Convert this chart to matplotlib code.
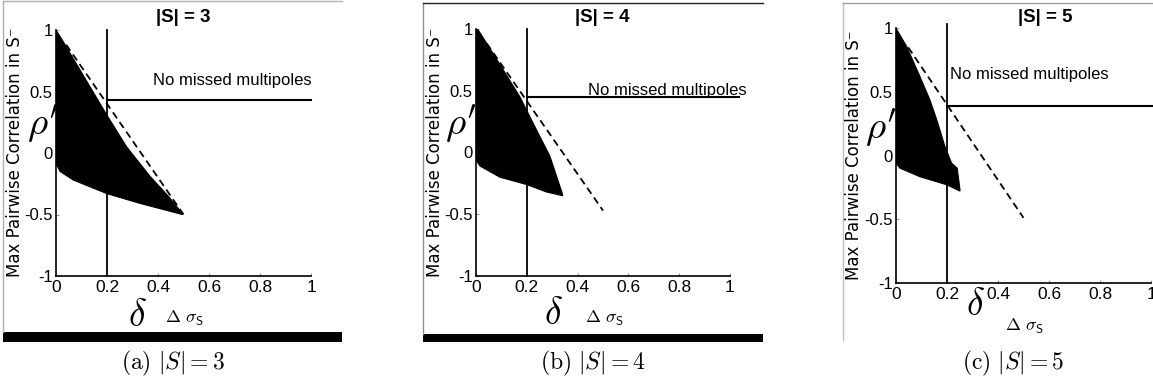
#!/usr/bin/env python3
"""Three-panel scatter-region plot: max pairwise correlation vs delta for |S| = 3, 4, 5."""

import matplotlib

matplotlib.use("Agg")
import matplotlib.pyplot as plt
import numpy as np
from matplotlib.lines import Line2D
from matplotlib.patches import Rectangle

W, H = 1153, 388

# ---- data ----
set_sizes = [3, 4, 5]
panel_letters = ["a", "b", "c"]

# upper / lower boundary of the dense point cloud, per panel
upper_x_3 = [0.0, 0.03, 0.07, 0.133, 0.199, 0.277, 0.369, 0.44, 0.495]
upper_y_3 = [1.0, 0.90, 0.76, 0.54, 0.31, 0.05, -0.19, -0.35, -0.49]
lower_x_3 = [0.0, 0.016, 0.068, 0.199, 0.33, 0.495]
lower_y_3 = [-0.085, -0.15, -0.22, -0.33, -0.41, -0.50]

upper_x_4 = [0.0, 0.068, 0.173, 0.239, 0.291, 0.341]
upper_y_4 = [1.02, 0.80, 0.45, 0.18, -0.03, -0.34]
lower_x_4 = [0.0, 0.016, 0.094, 0.2, 0.278, 0.341]
lower_y_4 = [-0.06, -0.11, -0.20, -0.26, -0.32, -0.35]

upper_x_5 = [0.0, 0.042, 0.094, 0.133, 0.16, 0.192, 0.218, 0.24, 0.251]
upper_y_5 = [1.0, 0.857, 0.62, 0.437, 0.28, 0.07, -0.06, -0.10, -0.27]
lower_x_5 = [0.0, 0.016, 0.094, 0.199, 0.251]
lower_y_5 = [-0.06, -0.10, -0.167, -0.23, -0.28]

# dashed bound line endpoints
dash_x = [[0.04, 0.5], [0.042, 0.5], [0.048, 0.5]]
dash_y = [[0.88, -0.5], [0.884, -0.47], [0.85, -0.49]]

# threshold lines
delta_thr = [0.2, 0.2, 0.2]
rho_thr = [0.43, 0.45, 0.39]
hline_end = [1.0, 1.035, 1.008]
vline_top = [1.0, 1.0, 1.03]

x_ticks = [0, 0.2, 0.4, 0.6, 0.8, 1]
x_ticklabels = ["0", "0.2", "0.4", "0.6", "0.8", "1"]
y_ticks = [-1, -0.5, 0, 0.5, 1]
y_ticklabels = ["-1", "-0.5", "0", "0.5", "1"]

uppers = [(upper_x_3, upper_y_3), (upper_x_4, upper_y_4), (upper_x_5, upper_y_5)]
lowers = [(lower_x_3, lower_y_3), (lower_x_4, lower_y_4), (lower_x_5, lower_y_5)]

# ---- layout in pixels (left, right, top, bottom) ----
axes_px = [(56, 311, 30, 276), (476, 730, 29, 276), (896, 1151, 28.3, 282.7)]
SANS = ["Liberation Sans", "DejaVu Sans"]


def fx(px):
    return px / W


def fy(py):
    return 1 - py / H


fig = plt.figure(figsize=(W / 100, H / 100), dpi=100)

# panel frames and black bars
frame_lines = [
    ((3, 3), (1, 332), "#b0b0b0"), ((3, 342), (1, 1), "#b0b0b0"),
    ((423, 423), (3, 334), "#909090"), ((423, 763), (3, 3), "#202020"),
    ((843, 843), (2.5, 340), "#c0c0c0"), ((843, 1153), (2.5, 2.5), "#a0a0a0"),
]
for xs, ys, c in frame_lines:
    fig.add_artist(Line2D([fx(v) for v in xs], [fy(v) for v in ys], color=c, lw=1))
for x0, x1, y0, y1 in [(3, 342, 332, 342), (423, 763, 334, 342)]:
    fig.add_artist(Rectangle((fx(x0), fy(y1)), fx(x1 - x0), (y1 - y0) / H,
                             color="black", lw=0))

for i, (left, right, top, bottom) in enumerate(axes_px):
    ax = fig.add_axes([fx(left), fy(bottom), fx(right - left), (bottom - top) / H])
    ax.set_xlim(0, 1)
    ax.set_ylim(-1, 1)
    ux, uy = uppers[i]
    lx, ly = lowers[i]
    ax.fill(np.concatenate([ux, lx[::-1]]), np.concatenate([uy, ly[::-1]]),
            color="black", lw=0.8, ec="black", zorder=2)
    ax.plot(dash_x[i], dash_y[i], color="black", lw=1.3, ls=(0, (4, 2.5)), zorder=3)
    ax.plot([delta_thr[i], delta_thr[i]], [-1, vline_top[i]], color="black",
            lw=1.3, clip_on=False, zorder=3)
    ax.plot([delta_thr[i], hline_end[i]], [rho_thr[i], rho_thr[i]], color="black",
            lw=1.5, clip_on=False, zorder=3)

    for s in ("top", "right"):
        ax.spines[s].set_visible(False)
    for s in ("left", "bottom"):
        ax.spines[s].set_linewidth(1.2)
    ax.set_xticks(x_ticks)
    ax.set_xticklabels(x_ticklabels, family=SANS, fontsize=12.5)
    ax.set_yticks(y_ticks)
    ax.set_yticklabels(y_ticklabels, family=SANS, fontsize=12)
    ax.tick_params(direction="in", length=2.5, color="#999999", width=0.8)
    ax.tick_params(axis="x", pad=3)
    ax.tick_params(axis="y", pad=2.5)
    ax.patch.set_alpha(0)

# ---- text ----
title_pos = [(183, 17), (602, 17), (1045, 17)]
ylabel_pos = [(15, 152), (435, 152), (854, 155)]
rho_pos = [(43, 124), (461, 124), (881, 128)]
delta_pos = [(137, 316), (553, 314), (975, 305)]
dsig_pos = [(185, 318), (605, 318), (1025, 326)]
note_pos = [(153, 80), (588, 91), (950, 75)]
cap_pos = [(173, 363), (593, 363), (1013, 363)]

for i, n in enumerate(set_sizes):
    fig.text(fx(title_pos[i][0]), fy(title_pos[i][1]), f"|S| = {n}", ha="center",
             va="center", fontsize=13.5, fontweight="bold", family=SANS)
    fig.text(fx(ylabel_pos[i][0]), fy(ylabel_pos[i][1]),
             "Max Pairwise Correlation in S\u207b", rotation=90, ha="center",
             va="center", fontsize=12, family="DejaVu Sans")
    fig.text(fx(rho_pos[i][0]), fy(rho_pos[i][1]), r"$\rho'$", ha="center",
             va="center", fontsize=28, math_fontfamily="cm")
    fig.text(fx(delta_pos[i][0]), fy(delta_pos[i][1]), r"$\delta$", ha="center",
             va="center", fontsize=27, math_fontfamily="cm")
    fig.text(fx(dsig_pos[i][0]), fy(dsig_pos[i][1]), r"$\Delta\ \sigma_{\mathsf{S}}$",
             ha="center", va="center", fontsize=13, math_fontfamily="cm")
    fig.text(fx(note_pos[i][0]), fy(note_pos[i][1]), "No missed multipoles",
             ha="left", va="center", fontsize=12, family=SANS)
    fig.text(fx(cap_pos[i][0]), fy(cap_pos[i][1]),
             rf"$\mathrm{{({panel_letters[i]})}}\ |S| = {n}$", ha="center",
             va="center", fontsize=17, math_fontfamily="cm")

fig.savefig("out.png", dpi=100)
